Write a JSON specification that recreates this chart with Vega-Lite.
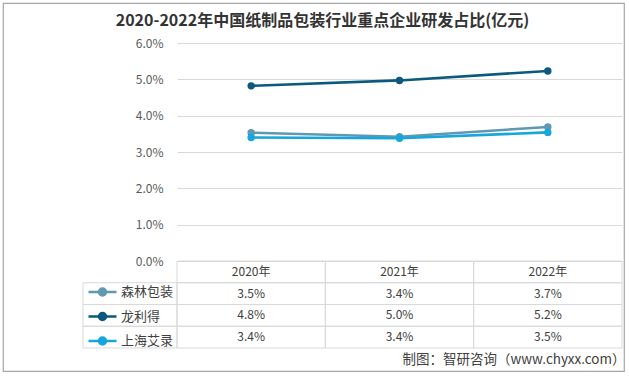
{
  "$schema": "https://vega.github.io/schema/vega-lite/v6.json",
  "width": 621,
  "height": 368,
  "autosize": {"type": "none"},
  "padding": {"left": 3, "top": 3, "right": 5, "bottom": 5},
  "background": "white",
  "config": {
    "view": {"stroke": "#a6a6a6", "strokeWidth": 1.2},
    "font": "Noto Sans CJK SC",
    "axis": {"labelFont": "Noto Sans CJK SC", "titleFont": "Noto Sans CJK SC"}
  },
  "title": {
    "text": "2020-2022年中国纸制品包装行业重点企业研发占比(亿元)",
    "font": "Noto Sans CJK SC",
    "fontSize": 16,
    "fontWeight": "bold",
    "color": "#333333",
    "anchor": "middle",
    "offset": -26,
    "dx": 9
  },
  "data": {
    "values": [
      {"company": "年份", "year": "2020年"},
      {"company": "年份", "year": "2021年"},
      {"company": "年份", "year": "2022年"},
      {"company": "森林包装", "year": "2020年", "value": 0.0353},
      {"company": "森林包装", "year": "2021年", "value": 0.0342},
      {"company": "森林包装", "year": "2022年", "value": 0.0369},
      {"company": "龙利得", "year": "2020年", "value": 0.0482},
      {"company": "龙利得", "year": "2021年", "value": 0.0497},
      {"company": "龙利得", "year": "2022年", "value": 0.0523},
      {"company": "上海艾录", "year": "2020年", "value": 0.0340},
      {"company": "上海艾录", "year": "2021年", "value": 0.0338},
      {"company": "上海艾录", "year": "2022年", "value": 0.0354}
    ]
  },
  "resolve": {
    "scale": {"x": "independent", "y": "independent"},
    "axis": {"x": "independent", "y": "independent"}
  },
  "layer": [
    {
      "transform": [{"filter": "datum.company === '森林包装' || datum.company === '龙利得' || datum.company === '上海艾录'"}, {"filter": "datum.year === '2020年'"}],
      "mark": {"type": "rect", "fill": "white", "fillOpacity": 0, "stroke": "#d9d9d9", "strokeWidth": 1},
      "encoding": {
        "x": {
          "datum": "图例",
          "type": "nominal",
          "scale": {"type": "band", "domain": ["图例"], "range": [80, 174], "paddingInner": 0, "paddingOuter": 0},
          "axis": null
        },
        "y": {
          "field": "company", "type": "nominal",
          "scale": {"type": "band", "domain": ["森林包装", "龙利得", "上海艾录"], "range": [279.75, 345], "paddingInner": 0, "paddingOuter": 0},
          "axis": null
        }
      }
    },
    {
      "transform": [{"filter": "datum.company !== '年份'"}],
      "encoding": {
        "x": {
          "field": "year", "type": "nominal",
          "scale": {"type": "band", "domain": ["2020年", "2021年", "2022年"], "range": [174, 619], "paddingInner": 0, "paddingOuter": 0},
          "axis": null
        },
        "y": {
          "field": "value", "type": "quantitative",
          "scale": {"domain": [0, 0.06], "range": [258, 40], "nice": false, "zero": true},
          "axis": {
            "orient": "left", "offset": -174,
            "values": [0, 0.01, 0.02, 0.03, 0.04, 0.05, 0.06],
            "format": ".1%",
            "domain": false, "ticks": false,
            "grid": true, "gridColor": "#d9d9d9",
            "labelPadding": 14, "labelFontSize": 12, "labelColor": "#595959",
            "title": null
          }
        },
        "color": {
          "field": "company", "type": "nominal",
          "scale": {"domain": ["森林包装", "龙利得", "上海艾录"], "range": ["#5f98b1", "#0b5a7e", "#15a6dc"]},
          "legend": {
            "orient": "none", "legendX": 80, "legendY": 277.5,
            "title": null,
            "symbolType": "M-2,0L2,0M0.5,0A0.5,0.5,0,1,1,-0.5,0A0.5,0.5,0,1,1,0.5,0Z",
            "symbolSize": 196,
            "symbolStrokeWidth": 2.5,
            "symbolOffset": 8,
            "labelOffset": 10,
            "labelFont": "Noto Sans CJK SC",
            "labelFontSize": 13,
            "labelColor": "#404040",
            "rowPadding": 7.5,
            "padding": 3,
            "encode": {
              "symbols": {
                "update": {
                  "fill": {"signal": "scale('color', datum.value)"},
                  "stroke": {"signal": "scale('color', datum.value)"},
                  "opacity": {"value": 1}
                }
              }
            }
          }
        }
      },
      "layer": [
        {"mark": {"type": "line", "strokeWidth": 2.6}},
        {"mark": {"type": "point", "filled": true, "size": 55, "opacity": 1}}
      ]
    },
    {
      "encoding": {
        "x": {
          "field": "year", "type": "nominal",
          "scale": {"type": "band", "domain": ["2020年", "2021年", "2022年"], "range": [174, 619], "paddingInner": 0, "paddingOuter": 0},
          "axis": null
        },
        "y": {
          "field": "company", "type": "nominal",
          "scale": {"type": "band", "domain": ["年份", "森林包装", "龙利得", "上海艾录"], "range": [258, 345], "paddingInner": 0, "paddingOuter": 0},
          "axis": {
            "orient": "left", "offset": -174,
            "domain": false, "ticks": false, "grid": false, "labels": false,
            "title": "制图：智研咨询（www.chyxx.com）",
            "titleAngle": 0, "titleX": 448, "titleY": 356,
            "titleAlign": "right", "titleBaseline": "middle",
            "titleFontSize": 13.5, "titleFontWeight": "normal", "titleColor": "#404040"
          }
        }
      },
      "layer": [
        {"mark": {"type": "rect", "fill": "white", "fillOpacity": 0, "stroke": "#d9d9d9", "strokeWidth": 1}},
        {
          "transform": [{"filter": "datum.company !== '年份'"}],
          "mark": {"type": "text", "fontSize": 12, "color": "#404040", "font": "Noto Sans CJK SC"},
          "encoding": {"text": {"field": "value", "type": "quantitative", "format": ".1%"}}
        },
        {
          "transform": [{"filter": "datum.company === '年份'"}],
          "mark": {"type": "text", "fontSize": 12, "color": "#404040", "font": "Noto Sans CJK SC"},
          "encoding": {"text": {"field": "year", "type": "nominal"}}
        }
      ]
    }
  ]
}
